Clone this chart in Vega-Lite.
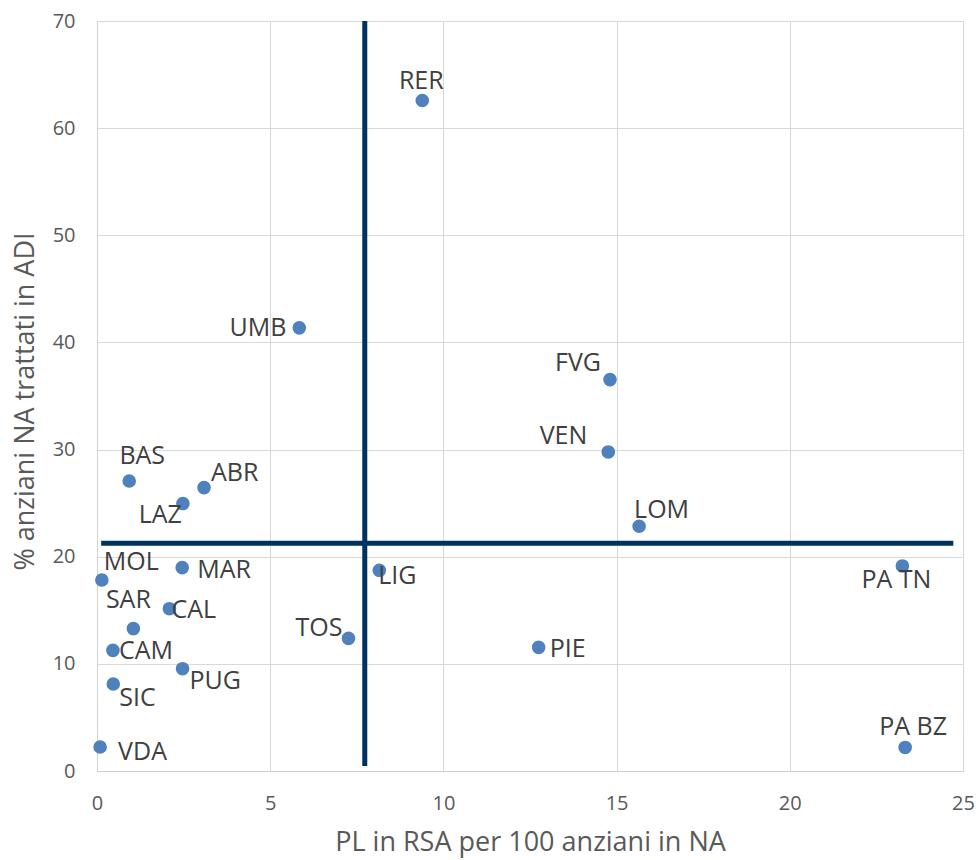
{
  "$schema": "https://vega.github.io/schema/vega-lite/v6.json",
  "width": 866,
  "height": 750,
  "autosize": {"type": "none"},
  "padding": {"left": 97, "top": 21, "right": 13, "bottom": 89},
  "background": "white",
  "config": {
    "font": "Open Sans",
    "view": {"stroke": "#d9d9d9"},
    "axis": {
      "grid": true,
      "gridColor": "#d9d9d9",
      "gridWidth": 1,
      "domainColor": "#d0d0d0",
      "ticks": false,
      "tickSize": 0,
      "labelPadding": 22,
      "labelFontSize": 20,
      "labelColor": "#595959",
      "labelFont": "Open Sans",
      "titleFont": "Open Sans",
      "titleFontSize": 27,
      "titleFontWeight": "normal",
      "titleColor": "#595959"
    }
  },
  "datasets": {
    "points": [
      {"name": "RER", "x": 9.39, "y": 62.58},
      {"name": "UMB", "x": 5.84, "y": 41.36},
      {"name": "FVG", "x": 14.81, "y": 36.53},
      {"name": "VEN", "x": 14.76, "y": 29.78},
      {"name": "LOM", "x": 15.65, "y": 22.84},
      {"name": "BAS", "x": 0.93, "y": 27.07},
      {"name": "ABR", "x": 3.09, "y": 26.45},
      {"name": "LAZ", "x": 2.48, "y": 24.96},
      {"name": "MOL", "x": 0.14, "y": 17.83},
      {"name": "MAR", "x": 2.46, "y": 18.98},
      {"name": "LIG", "x": 8.15, "y": 18.73},
      {"name": "PA TN", "x": 23.25, "y": 19.14},
      {"name": "SAR", "x": 1.05, "y": 13.29},
      {"name": "CAL", "x": 2.09, "y": 15.15},
      {"name": "TOS", "x": 7.26, "y": 12.38},
      {"name": "PIE", "x": 12.75, "y": 11.54},
      {"name": "CAM", "x": 0.46, "y": 11.26},
      {"name": "PUG", "x": 2.47, "y": 9.55},
      {"name": "SIC", "x": 0.47, "y": 8.12},
      {"name": "VDA", "x": 0.09, "y": 2.24},
      {"name": "PA BZ", "x": 23.33, "y": 2.2}
    ],
    "lines": [
      {"x": 7.73, "x2": 7.73, "y": 0.47, "y2": 70},
      {"x": 0.12, "x2": 24.72, "y": 21.25, "y2": 21.25}
    ]
  },
  "data": {"name": "points"},
  "encoding": {
    "x": {
      "field": "x",
      "type": "quantitative",
      "scale": {"domain": [0, 25], "nice": false, "zero": false},
      "axis": {
        "title": "PL in RSA per 100 anziani in NA",
        "values": [0, 5, 10, 15, 20, 25],
        "labelFlush": false,
        "labelOverlap": false,
        "titleBaseline": "alphabetic",
        "titleAlign": "center",
        "titleX": 433,
        "titleY": 79
      }
    },
    "y": {
      "field": "y",
      "type": "quantitative",
      "scale": {"domain": [0, 70], "nice": false, "zero": false},
      "axis": {
        "title": "% anziani NA trattati in ADI",
        "values": [0, 10, 20, 30, 40, 50, 60, 70],
        "labelFlush": false,
        "labelOverlap": false,
        "titleAngle": -90,
        "titleAlign": "center",
        "titleBaseline": "alphabetic",
        "titleX": -64,
        "titleY": 380
      }
    }
  },
  "layer": [
    {
      "data": {"name": "lines"},
      "mark": {"type": "rule", "color": "#00325f", "strokeWidth": 5},
      "encoding": {"x2": {"field": "x2"}, "y2": {"field": "y2"}}
    },
    {
      "mark": {"type": "circle", "size": 185, "opacity": 1, "color": "#4f81bd"}
    },
    {"transform": [{"filter": "datum.name === 'RER'"}], "mark": {"type": "text", "align": "center", "baseline": "alphabetic", "dx": -1, "dy": -12, "fontSize": 25, "color": "#404040"}, "encoding": {"text": {"field": "name"}}},
    {"transform": [{"filter": "datum.name === 'BAS'"}], "mark": {"type": "text", "align": "center", "baseline": "alphabetic", "dx": 13, "dy": -17, "fontSize": 25, "color": "#404040"}, "encoding": {"text": {"field": "name"}}},
    {"transform": [{"filter": "datum.name === 'ABR'"}], "mark": {"type": "text", "align": "left", "baseline": "alphabetic", "dx": 7, "dy": -7, "fontSize": 25, "color": "#404040"}, "encoding": {"text": {"field": "name"}}},
    {"transform": [{"filter": "datum.name === 'LAZ'"}], "mark": {"type": "text", "align": "right", "baseline": "alphabetic", "dx": -1, "dy": 19, "fontSize": 25, "color": "#404040"}, "encoding": {"text": {"field": "name"}}},
    {"transform": [{"filter": "datum.name === 'MOL'"}], "mark": {"type": "text", "align": "left", "baseline": "alphabetic", "dx": 2, "dy": -10, "fontSize": 25, "color": "#404040"}, "encoding": {"text": {"field": "name"}}},
    {"transform": [{"filter": "datum.name === 'MAR'"}], "mark": {"type": "text", "align": "left", "baseline": "alphabetic", "dx": 15, "dy": 10, "fontSize": 25, "color": "#404040"}, "encoding": {"text": {"field": "name"}}},
    {"transform": [{"filter": "datum.name === 'SAR'"}], "mark": {"type": "text", "align": "center", "baseline": "alphabetic", "dx": -5, "dy": -21, "fontSize": 25, "color": "#404040"}, "encoding": {"text": {"field": "name"}}},
    {"transform": [{"filter": "datum.name === 'CAL'"}], "mark": {"type": "text", "align": "left", "baseline": "alphabetic", "dx": 2, "dy": 9, "fontSize": 25, "color": "#404040"}, "encoding": {"text": {"field": "name"}}},
    {"transform": [{"filter": "datum.name === 'CAM'"}], "mark": {"type": "text", "align": "left", "baseline": "alphabetic", "dx": 6, "dy": 9, "fontSize": 25, "color": "#404040"}, "encoding": {"text": {"field": "name"}}},
    {"transform": [{"filter": "datum.name === 'PUG'"}], "mark": {"type": "text", "align": "left", "baseline": "alphabetic", "dx": 7, "dy": 20, "fontSize": 25, "color": "#404040"}, "encoding": {"text": {"field": "name"}}},
    {"transform": [{"filter": "datum.name === 'SIC'"}], "mark": {"type": "text", "align": "left", "baseline": "alphabetic", "dx": 6, "dy": 22, "fontSize": 25, "color": "#404040"}, "encoding": {"text": {"field": "name"}}},
    {"transform": [{"filter": "datum.name === 'VDA'"}], "mark": {"type": "text", "align": "left", "baseline": "alphabetic", "dx": 18, "dy": 13, "fontSize": 25, "color": "#404040"}, "encoding": {"text": {"field": "name"}}},
    {"transform": [{"filter": "datum.name === 'TOS'"}], "mark": {"type": "text", "align": "right", "baseline": "alphabetic", "dx": -6, "dy": -2, "fontSize": 25, "color": "#404040"}, "encoding": {"text": {"field": "name"}}},
    {"transform": [{"filter": "datum.name === 'LIG'"}], "mark": {"type": "text", "align": "left", "baseline": "alphabetic", "dx": -1, "dy": 14, "fontSize": 25, "color": "#404040"}, "encoding": {"text": {"field": "name"}}},
    {"transform": [{"filter": "datum.name === 'FVG'"}], "mark": {"type": "text", "align": "right", "baseline": "alphabetic", "dx": -9, "dy": -9, "fontSize": 25, "color": "#404040"}, "encoding": {"text": {"field": "name"}}},
    {"transform": [{"filter": "datum.name === 'VEN'"}], "mark": {"type": "text", "align": "right", "baseline": "alphabetic", "dx": -21, "dy": -8, "fontSize": 25, "color": "#404040"}, "encoding": {"text": {"field": "name"}}},
    {"transform": [{"filter": "datum.name === 'LOM'"}], "mark": {"type": "text", "align": "left", "baseline": "alphabetic", "dx": -5, "dy": -8, "fontSize": 25, "color": "#404040"}, "encoding": {"text": {"field": "name"}}},
    {"transform": [{"filter": "datum.name === 'PA TN'"}], "mark": {"type": "text", "align": "center", "baseline": "alphabetic", "dx": -6, "dy": 22, "fontSize": 25, "color": "#404040"}, "encoding": {"text": {"field": "name"}}},
    {"transform": [{"filter": "datum.name === 'PIE'"}], "mark": {"type": "text", "align": "left", "baseline": "alphabetic", "dx": 11, "dy": 10, "fontSize": 25, "color": "#404040"}, "encoding": {"text": {"field": "name"}}},
    {"transform": [{"filter": "datum.name === 'PA BZ'"}], "mark": {"type": "text", "align": "center", "baseline": "alphabetic", "dx": 8, "dy": -12, "fontSize": 25, "color": "#404040"}, "encoding": {"text": {"field": "name"}}},
    {"transform": [{"filter": "datum.name === 'UMB'"}], "mark": {"type": "text", "align": "right", "baseline": "alphabetic", "dx": -13, "dy": 8, "fontSize": 25, "color": "#404040"}, "encoding": {"text": {"field": "name"}}}
  ]
}
